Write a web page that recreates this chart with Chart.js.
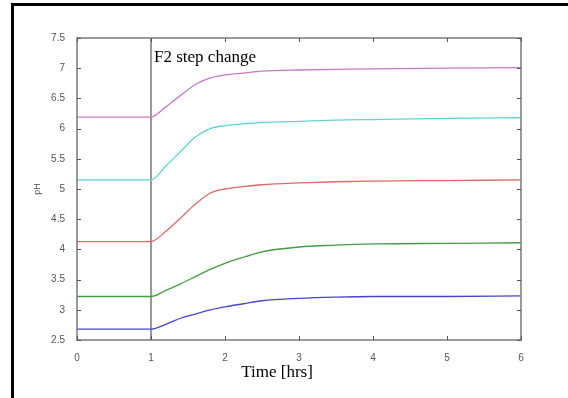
<!DOCTYPE html>
<html lang="en">
<head>
  <meta charset="UTF-8" />
  <title>pH response - F2 step change</title>
  <style>
    body {
      margin: 0;
      padding: 0;
      background: #fff;
      width: 568px;
      height: 398px;
      overflow: hidden;
    }

    .frame {
      position: absolute;
      left: 11px;
      top: 3px;
      width: 600px;
      height: 450px;
      border-left: 3px solid #000;
      border-top: 3px solid #000;
    }

    .wrap {
      position: absolute;
      left: 0;
      top: 0;
      width: 568px;
      height: 398px;
    }
  </style>
</head>
<body>
  <div class="frame"></div>
  <div class="wrap"><canvas id="phChart" width="568" height="398"></canvas></div>

  <script src="https://cdn.jsdelivr.net/npm/chart.js"></script>
  <script>
    // time in hours
    const time = [0, 1, 1.2, 1.4, 1.6, 1.8, 2.0, 2.25, 2.5, 3, 3.5, 4, 5, 6];

    // pH responses for each run
    const phMagenta = [6.19, 6.19, 6.36, 6.55, 6.73, 6.84, 6.89, 6.92, 6.95, 6.97, 6.98, 6.99, 7.00, 7.01];
    const phCyan    = [5.15, 5.15, 5.38, 5.62, 5.86, 6.00, 6.05, 6.08, 6.10, 6.12, 6.14, 6.15, 6.17, 6.18];
    const phRed     = [4.13, 4.13, 4.30, 4.52, 4.75, 4.93, 5.00, 5.04, 5.07, 5.10, 5.12, 5.13, 5.14, 5.15];
    const phGreen   = [3.22, 3.22, 3.32, 3.43, 3.55, 3.67, 3.77, 3.87, 3.96, 4.04, 4.07, 4.09, 4.10, 4.11];
    const phBlue    = [2.68, 2.68, 2.76, 2.86, 2.93, 3.00, 3.05, 3.10, 3.15, 3.19, 3.21, 3.22, 3.22, 3.23];

    const stepTime = 1;
    const xTicks = [0, 1, 2, 3, 4, 5, 6];
    const yTicks = [2.5, 3, 3.5, 4, 4.5, 5, 5.5, 6, 6.5, 7, 7.5];

    function points(ys) {
      return time.map((t, i) => ({ x: t, y: ys[i] }));
    }

    function series(ys, color) {
      return {
        data: points(ys),
        borderColor: color,
        borderWidth: 1.3,
        pointRadius: 0,
        showLine: true,
        cubicInterpolationMode: 'monotone'
      };
    }

    // box round the plot, inward tick marks, texts
    const matlabBox = {
      id: 'matlabBox',
      afterDraw(chart) {
        const c = chart.ctx;
        const a = chart.chartArea;
        const xs = chart.scales.x;
        const ys = chart.scales.y;
        c.save();
        c.strokeStyle = '#7a7a7a';
        c.lineWidth = 1.5;
        c.strokeRect(a.left, a.top, a.right - a.left, a.bottom - a.top);

        c.lineWidth = 1;
        c.strokeStyle = '#555';
        c.beginPath();
        xTicks.forEach(v => {
          const px = Math.round(xs.getPixelForValue(v)) + 0.5;
          c.moveTo(px, a.bottom); c.lineTo(px, a.bottom - 4);
          c.moveTo(px, a.top); c.lineTo(px, a.top + 4);
        });
        yTicks.forEach(v => {
          const py = Math.round(ys.getPixelForValue(v)) + 0.5;
          c.moveTo(a.left, py); c.lineTo(a.left + 4, py);
          c.moveTo(a.right, py); c.lineTo(a.right - 4, py);
        });
        c.stroke();

        c.fillStyle = '#000';
        c.font = '17px "Liberation Serif", "DejaVu Serif", serif';
        c.textBaseline = 'alphabetic';
        c.textAlign = 'left';
        c.fillText('F2 step change', xs.getPixelForValue(stepTime) + 3, a.top + 24);

        c.textAlign = 'center';
        c.textBaseline = 'middle';
        c.fillText('Time [hrs]', 277, 373);

        c.fillStyle = '#555';
        c.font = '9px "Liberation Sans", Arial, sans-serif';
        c.translate(38, (a.top + a.bottom) / 2);
        c.rotate(-Math.PI / 2);
        c.fillText('pH', 0, 0);
        c.restore();
      }
    };

    const ctx = document.getElementById('phChart').getContext('2d');

    new Chart(ctx, {
      type: 'scatter',
      data: {
        datasets: [
          series(phMagenta, '#c67ac6'),
          series(phCyan, '#62d2d2'),
          series(phRed, '#e06868'),
          series(phGreen, '#449c44'),
          series(phBlue, '#4646cc'),
          {
            data: [{ x: stepTime, y: 2.5 }, { x: stepTime, y: 7.5 }],
            borderColor: '#333',
            borderWidth: 1,
            pointRadius: 0,
            showLine: true
          }
        ]
      },
      plugins: [matlabBox],
      options: {
        responsive: false,
        animation: false,
        layout: { padding: { left: 0, top: 38, right: 47, bottom: 0 } },
        plugins: {
          legend: { display: false },
          tooltip: { enabled: false }
        },
        scales: {
          x: {
            type: 'linear',
            min: 0,
            max: 6,
            afterBuildTicks: s => { s.ticks = xTicks.map(v => ({ value: v })); },
            afterFit: s => { s.height = 58; },
            grid: { display: false },
            border: { display: false },
            ticks: {
              padding: 4,
              color: '#555',
              font: { family: '"Liberation Sans", Arial, sans-serif', size: 10 }
            }
          },
          y: {
            min: 2.5,
            max: 7.5,
            afterBuildTicks: s => { s.ticks = yTicks.map(v => ({ value: v })); },
            afterFit: s => { s.width = 77; },
            grid: { display: false },
            border: { display: false },
            ticks: {
              padding: 4,
              color: '#555',
              font: { family: '"Liberation Sans", Arial, sans-serif', size: 10 },
              callback: v => String(v)
            }
          }
        }
      }
    });
  </script>
</body>
</html>
